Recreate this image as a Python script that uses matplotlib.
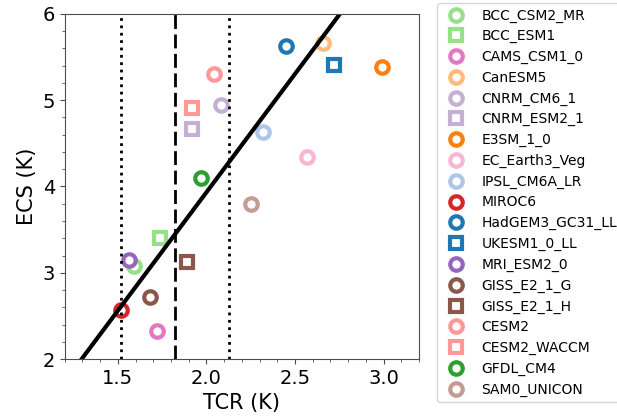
import matplotlib
matplotlib.use("Agg")
import matplotlib.pyplot as plt
from matplotlib.ticker import MultipleLocator

models = ["BCC_CSM2_MR", "BCC_ESM1", "CAMS_CSM1_0", "CanESM5", "CNRM_CM6_1",
          "CNRM_ESM2_1", "E3SM_1_0", "EC_Earth3_Veg", "IPSL_CM6A_LR", "MIROC6",
          "HadGEM3_GC31_LL", "UKESM1_0_LL", "MRI_ESM2_0", "GISS_E2_1_G",
          "GISS_E2_1_H", "CESM2", "CESM2_WACCM", "GFDL_CM4", "SAM0_UNICON"]
tcr = [1.59, 1.74, 1.72, 2.66, 2.08, 1.92, 2.99, 2.57, 2.32, 1.52,
       2.45, 2.72, 1.56, 1.68, 1.89, 2.04, 1.92, 1.97, 2.25]
ecs = [3.08, 3.40, 2.32, 5.66, 4.94, 4.67, 5.39, 4.34, 4.63, 2.57,
       5.63, 5.41, 3.15, 2.72, 3.12, 5.30, 4.91, 4.10, 3.80]
colors = ["#98df8a", "#98df8a", "#e377c2", "#ffbb78", "#c5b0d5", "#c5b0d5",
          "#ff7f0e", "#f7b6d2", "#aec7e8", "#d62728", "#1f77b4", "#1f77b4",
          "#9467bd", "#8c564b", "#8c564b", "#ff9896", "#ff9896", "#2ca02c",
          "#c49c94"]
markers = ["o", "s", "o", "o", "o", "s", "o", "o", "o", "o",
           "o", "s", "o", "o", "s", "o", "s", "o", "o"]

# TCR mean and +/- spread, regression of ECS on TCR
tcr_mean, tcr_lo, tcr_hi = 1.82, 1.52, 2.13
slope, intercept = 2.742, -1.551
line_x = [1.2, 3.2]

fig = plt.figure(figsize=(6.17, 4.2), dpi=100)
ax = fig.add_axes([0.105, 0.145, 0.574, 0.822])

for x, y, c, m, name in zip(tcr, ecs, colors, markers, models):
    ax.plot(x, y, linestyle="none", marker=m, markersize=9, markeredgewidth=3,
            markeredgecolor=c, markerfacecolor="white", label=name)

ax.plot(line_x, [slope * v + intercept for v in line_x], color="black", lw=3)
ax.axvline(tcr_mean, color="black", lw=2, ls=(0, (5, 2)))
ax.axvline(tcr_lo, color="black", lw=2, ls=":")
ax.axvline(tcr_hi, color="black", lw=2, ls=":")

ax.set_xlim(1.2, 3.2)
ax.set_ylim(2, 6)
ax.xaxis.set_major_locator(MultipleLocator(0.5))
ax.xaxis.set_minor_locator(MultipleLocator(0.1))
ax.yaxis.set_major_locator(MultipleLocator(1))
ax.yaxis.set_minor_locator(MultipleLocator(0.2))
for s in ax.spines.values():
    s.set_color("0.3")
ax.tick_params(which="both", color="0.3")
ax.tick_params(labelsize=14)
ax.set_xlabel("TCR (K)", fontsize=15)
ax.set_ylabel("ECS (K)", fontsize=15)

ax.legend(loc="upper left", bbox_to_anchor=(1.051, 1.032), fontsize=10,
          numpoints=1, borderaxespad=0, labelspacing=0.48)

fig.savefig("out.png", dpi=100)
